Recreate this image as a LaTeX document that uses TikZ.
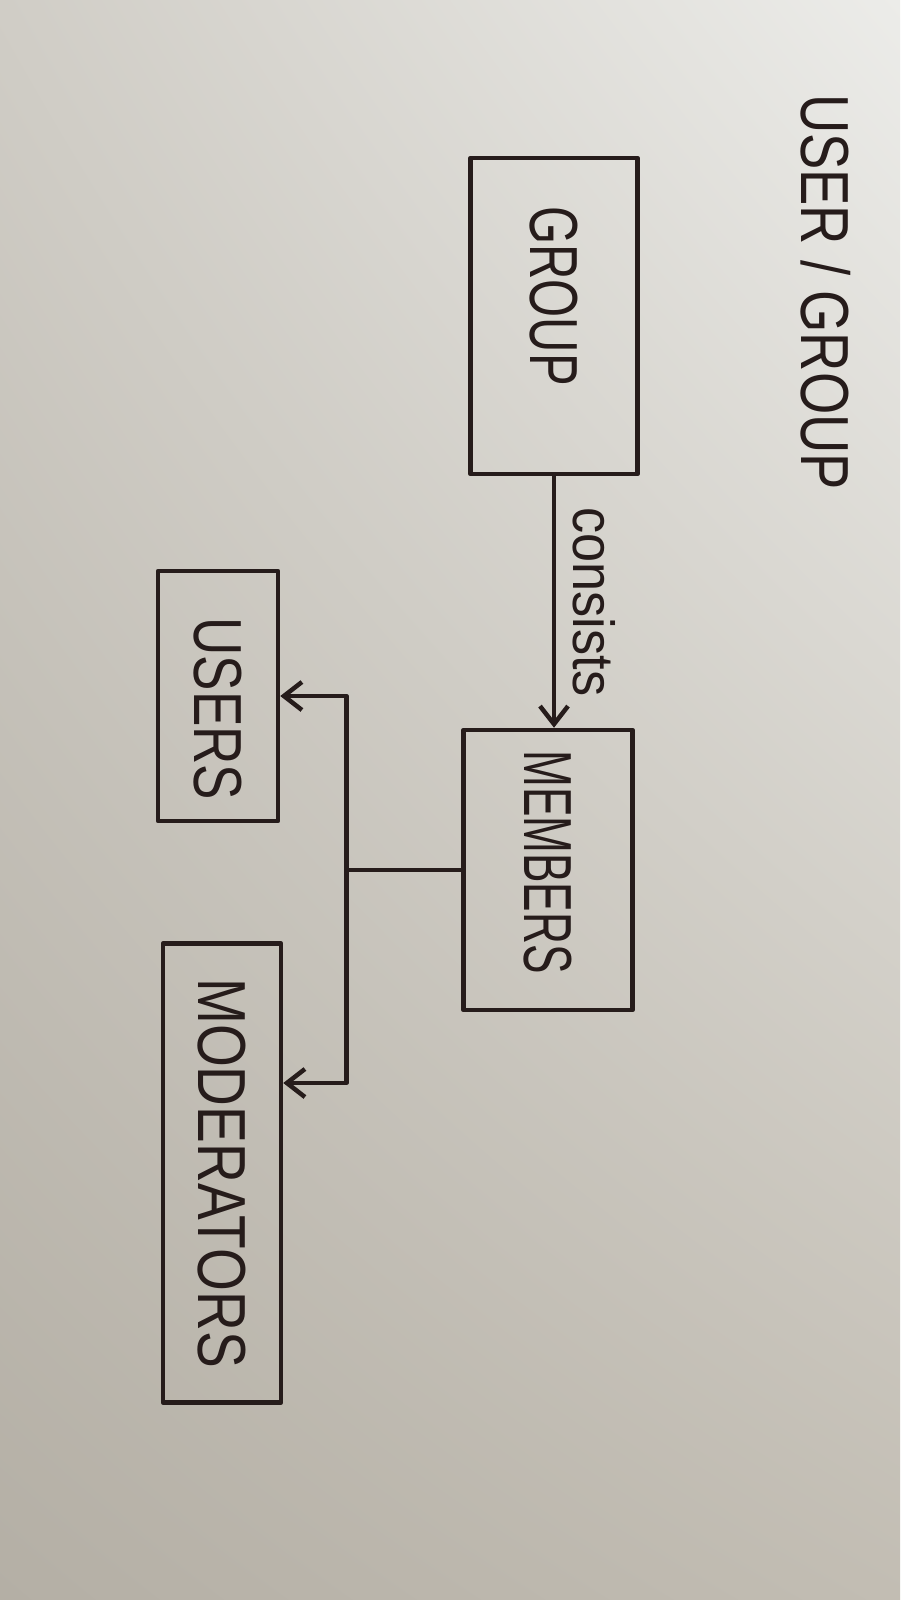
\documentclass[tikz,border=0pt]{standalone}
\usepackage{fontspec}
\setmainfont{Liberation Sans}
\usetikzlibrary{arrows.meta, shadings}

\definecolor{ink}{RGB}{38,28,27}
\definecolor{paperUL}{RGB}{208,205,198}
\definecolor{paperUR}{RGB}{236,236,233}
\definecolor{paperLL}{RGB}{180,175,165}
\definecolor{paperLR}{RGB}{194,189,179}

\newcommand{\squeeze}[2]{\scalebox{#1}[1]{#2}}

\begin{document}
\begin{tikzpicture}[x=1pt,y=-1pt,>={Straight Barb[length=18pt,width=28pt]},
  line width=4.5pt,line cap=round,line join=round,color=ink,
  box/.style={draw,rectangle,rotate=-90,inner sep=0pt,font=\fontsize{68}{80}\selectfont},
  word/.style={rotate=-90,inner sep=0pt,font=\fontsize{68}{80}\selectfont},
  edgetext/.style={rotate=-90,inner sep=0pt,font=\fontsize{58}{60}\selectfont}]
  \shade[upper left=paperUL,upper right=paperUR,lower left=paperLL,lower right=paperLR]
    (0,0) rectangle (900,1600);

  \node[word] (title) at (826,292) {\squeeze{0.8}{USER / GROUP}};

  \node[box, minimum width=316pt, minimum height=167pt] (group) at (554,316) {\squeeze{0.72}{GROUP}\kern40pt};
  \node[box, minimum width=280pt, minimum height=169pt] (members) at (548,870) {\squeeze{0.65}{MEMBERS}\kern16pt};
  \node[box, minimum width=250pt, minimum height=120pt] (users) at (218,696) {\kern26pt\squeeze{0.78}{USERS}};
  \node[box, minimum width=459pt, minimum height=118pt] (moderators) at (222,1173) {\squeeze{0.81}{MODERATORS}};

  \draw[->] (group.east) -- (group.east |- members.west)
    node[xshift=40pt, edgetext, midway] {\squeeze{0.9}{consists}};
  \draw (members.south) -- ++(-115,0) coordinate (split);
  \draw[->] (split) |- (users.north);
  \draw[->] (split) |- ([yshift=90pt]moderators.north);
\end{tikzpicture}
\end{document}
